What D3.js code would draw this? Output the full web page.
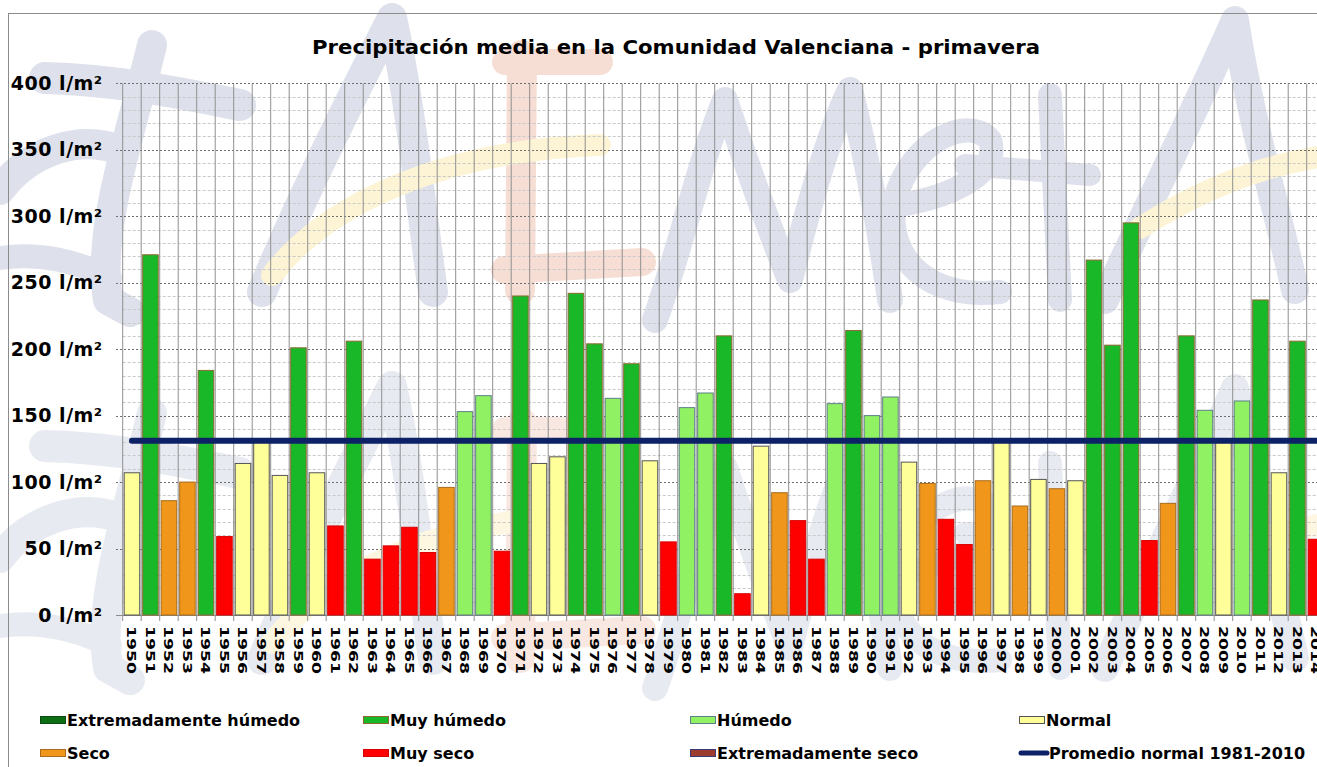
<!DOCTYPE html>
<html>
<head>
<meta charset="utf-8">
<script src="https://cdn.jsdelivr.net/npm/d3@7/dist/d3.min.js"></script>
<style>
  body { margin: 0; background: #fff; }
  svg { display: block; font-family: "DejaVu Sans", Verdana, sans-serif; }
</style>
</head>
<body>
<div id="chart"></div>
<script>
var width = 1317
var height = 767

// Data
var years = ["1950","1951","1952","1953","1954","1955","1956","1957","1958","1959",
             "1960","1961","1962","1963","1964","1965","1966","1967","1968","1969",
             "1970","1971","1972","1973","1974","1975","1976","1977","1978","1979",
             "1980","1981","1982","1983","1984","1985","1986","1987","1988","1989",
             "1990","1991","1992","1993","1994","1995","1996","1997","1998","1999",
             "2000","2001","2002","2003","2004","2005","2006","2007","2008","2009",
             "2010","2011","2012","2013","2014"];
var precip = [107,271,86,100,184,59,114,130,105,201,
              107,67,206,42,52,66,47,96,153,165,
              48,240,114,119,242,204,163,189,116,55,
              156,167,210,16,127,92,71,42,159,214,
              150,164,115,99,72,53,101,130,82,102,
              95,101,267,203,295,56,84,210,154,130,
              161,237,107,206,57];
var caracter = ["N","MH","S","S","MH","MS","N","N","N","MH",
                "N","MS","MH","MS","MS","MS","MS","S","H","H",
                "MS","MH","N","N","MH","MH","H","MH","N","MS",
                "H","H","MH","MS","N","S","MS","MS","H","MH",
                "H","H","N","S","MS","MS","S","N","S","N",
                "S","N","MH","MH","MH","MS","S","MH","H","N",
                "H","MH","N","MH","MS"];
var promedio = [131];   // promedio normal 1981-2010
var yTicks = [0, 50, 100, 150, 200, 250, 300, 350, 400];
var legendCodes = ["EH","MH","H","N","S","MS","ES","AVG"];
var legendLabels = ["Extremadamente húmedo","Muy húmedo","Húmedo","Normal",
                    "Seco","Muy seco","Extremadamente seco","Promedio normal 1981-2010"];

var fills = { EH: "#0b6e14", MH: "#19b829", H: "#90f262", N: "#ffff99", S: "#f0961a", MS: "#ff0000", ES: "#9c3b2e" };
var strokes = { EH: "#0b4a10", MH: "#8a6a30", H: "#5d7f86", N: "#555555", S: "#a86c1c", MS: "#d80000", ES: "#3a3a7a" };
var navy = "#0c2166";

var svg = d3.select("#chart").append("svg")
    .attr("width", width)
    .attr("height", height);

var defs = svg.append("defs");
var blur = defs.append("filter").attr("id", "shadow")
    .attr("x", "-5%").attr("y", "-300%").attr("width", "110%").attr("height", "700%");
blur.append("feGaussianBlur").attr("stdDeviation", 3.5);

// Watermark (logo in background), rough brush strokes
var wm = [
    { c: "#d2d6e4", w: 30, d: "M152,45 C132,130 96,230 108,300 L130,312" },
    { c: "#d2d6e4", w: 32, d: "M45,78 C120,80 190,95 240,105" },
    { c: "#d2d6e4", w: 30, d: "M0,190 C30,150 80,135 120,150" },
    { c: "#d2d6e4", w: 24, d: "M0,258 C40,252 80,262 110,278" },
    { c: "#d2d6e4", w: 30, d: "M262,292 C300,200 350,100 392,18 C410,100 420,200 433,292" },
    { c: "#d2d6e4", w: 26, d: "M655,320 C680,250 700,160 725,100 C745,160 770,230 790,280 C810,200 830,130 850,90 C865,150 880,230 890,300" },
    { c: "#d2d6e4", w: 24, d: "M900,205 C960,195 1000,170 990,140 C970,115 910,140 895,200 C885,260 930,300 1000,292" },
    { c: "#d2d6e4", w: 24, d: "M1050,95 L1060,300" },
    { c: "#d2d6e4", w: 22, d: "M965,165 L1090,175" },
    { c: "#d2d6e4", w: 28, d: "M1105,300 C1150,200 1200,100 1235,20 C1250,120 1280,220 1295,290" },
    { c: "#f4d2c5", w: 30, d: "M522,55 L520,290" },
    { c: "#f4d2c5", w: 26, d: "M505,62 L600,62" },
    { c: "#f4d2c5", w: 28, d: "M505,270 L642,262" },
    { c: "#fcf0c6", w: 22, d: "M272,275 C330,200 450,150 600,145" },
    { c: "#fcf0c6", w: 22, d: "M1140,228 C1200,190 1260,165 1330,155" }
];
var wmGroup = defs.append("g").attr("id", "wm");
wmGroup.selectAll("path").data(wm).enter().append("path")
    .attr("d", function(d) { return d.d; })
    .attr("fill", "none")
    .attr("stroke", function(d) { return d.c; })
    .attr("stroke-width", function(d) { return d.w; })
    .attr("stroke-linecap", "round")
    .attr("stroke-linejoin", "round");

svg.append("use").attr("href", "#wm").attr("opacity", 0.72);
svg.append("use").attr("href", "#wm").attr("opacity", 0.5).attr("transform", "translate(0,368)");

// outer frame
svg.append("rect")
    .attr("x", 8.5).attr("y", 13.5)
    .attr("width", width + 20).attr("height", height + 20)
    .attr("fill", "none").attr("stroke", "#8c8c8c");

// Scales
var x0 = 122.7, step = 18.5;
var x = d3.scaleBand()
    .domain(years)
    .range([x0, x0 + years.length * step])
    .paddingInner(0.16)
    .paddingOuter(0.08);
var y = d3.scaleLinear()
    .domain([0, 400])
    .range([615, 83.3]);

// title
svg.append("text")
    .attr("x", 676).attr("y", 54)
    .attr("text-anchor", "middle")
    .attr("font-size", 20)
    .attr("font-weight", "bold")
    .attr("textLength", 728)
    .attr("lengthAdjust", "spacingAndGlyphs")
    .text("Precipitación media en la Comunidad Valenciana - primavera");

// grid
var grid = svg.append("g");
grid.selectAll(".minor")
    .data(d3.range(10, 400, 10).filter(function(v) { return v % 50 != 0; }))
    .enter().append("line")
    .attr("x1", x0).attr("x2", width)
    .attr("y1", function(d) { return Math.round(y(d)) + 0.5; })
    .attr("y2", function(d) { return Math.round(y(d)) + 0.5; })
    .attr("stroke", "#c9c9c9").attr("stroke-dasharray", "3,2");
grid.selectAll(".major")
    .data(yTicks.slice(1))
    .enter().append("line")
    .attr("x1", 116).attr("x2", width)
    .attr("y1", function(d) { return Math.round(y(d)) + 0.5; })
    .attr("y2", function(d) { return Math.round(y(d)) + 0.5; })
    .attr("stroke", "#6e6e6e").attr("stroke-dasharray", "2,2");
grid.selectAll(".vert")
    .data(years.concat(["end"]))
    .enter().append("line")
    .attr("x1", function(d, i) { return x0 + i * x.step(); })
    .attr("x2", function(d, i) { return x0 + i * x.step(); })
    .attr("y1", y(400)).attr("y2", 621)
    .attr("stroke", "#8f8f8f").attr("stroke-width", 1);
grid.append("line")
    .attr("x1", 116).attr("x2", width)
    .attr("y1", 615.5).attr("y2", 615.5)
    .attr("stroke", "#8a8a8a");

// y axis
var yAxis = svg.append("g")
    .attr("transform", "translate(" + x0 + ",0)")
    .call(d3.axisLeft(y).tickValues(yTicks).tickSize(0).tickPadding(20)
        .tickFormat(function(d) { return d + " l/m²"; }));
yAxis.select(".domain").remove();
yAxis.selectAll("text")
    .attr("font-family", "DejaVu Sans, Verdana, sans-serif")
    .attr("font-size", 19).attr("font-weight", "bold").attr("fill", "#000")
    .attr("letter-spacing", 0.5);

// x axis (rotated years)
var xAxis = svg.append("g")
    .attr("transform", "translate(0,615)")
    .call(d3.axisBottom(x).tickSize(0));
xAxis.select(".domain").remove();
xAxis.selectAll("text")
    .attr("font-family", "DejaVu Sans, Verdana, sans-serif")
    .attr("font-size", 13).attr("font-weight", "bold").attr("fill", "#000")
    .attr("text-anchor", "start")
    .attr("transform", "rotate(90)")
    .attr("x", 11).attr("y", 4.6).attr("dy", 0)
    .attr("textLength", 48).attr("lengthAdjust", "spacingAndGlyphs");

// bars
var barData = years.map(function(yr, i) { return { year: yr, v: precip[i], c: caracter[i] }; });
svg.selectAll(".bar")
    .data(barData)
    .enter().append("rect")
    .attr("class", "bar")
    .attr("x", function(d) { return x(d.year); })
    .attr("width", x.bandwidth())
    .attr("y", function(d) { return y(d.v); })
    .attr("height", function(d) { return y(0) - y(d.v); })
    .attr("fill", function(d) { return fills[d.c]; })
    .attr("stroke", function(d) { return strokes[d.c]; })
    .attr("stroke-width", 1);

// average line with shadow
var xStart = x(years[0]) + x.bandwidth() / 2;
svg.selectAll(".avgShadow")
    .data(promedio).enter().append("line")
    .attr("x1", xStart).attr("x2", width + 20)
    .attr("y1", function(d) { return y(d) + 1; }).attr("y2", function(d) { return y(d) + 1; })
    .attr("stroke", "#555").attr("stroke-opacity", 0.55).attr("stroke-width", 12)
    .attr("filter", "url(#shadow)");
svg.selectAll(".avg")
    .data(promedio).enter().append("line")
    .attr("x1", xStart).attr("x2", width + 20)
    .attr("y1", function(d) { return y(d); }).attr("y2", function(d) { return y(d); })
    .attr("stroke", navy).attr("stroke-width", 6).attr("stroke-linecap", "round");

// legend
var colX = [40, 363, 690, 1019];
var rowY = [720, 753];
var legend = svg.selectAll(".leg")
    .data(legendCodes)
    .enter().append("g")
    .attr("transform", function(d, i) { return "translate(" + colX[i % 4] + "," + rowY[Math.floor(i / 4)] + ")"; });
legend.filter(function(d) { return d != "AVG"; })
    .append("rect")
    .attr("x", 0.5).attr("y", -3.5).attr("width", 25).attr("height", 7)
    .attr("fill", function(d) { return fills[d]; })
    .attr("stroke", function(d) { return strokes[d]; });
legend.filter(function(d) { return d == "AVG"; })
    .append("line")
    .attr("x1", 2).attr("x2", 28).attr("y1", 0).attr("y2", 0)
    .attr("stroke", navy).attr("stroke-width", 5).attr("stroke-linecap", "round");
legend.append("text")
    .attr("x", function(d) { return d == "AVG" ? 30 : 27; })
    .attr("y", 6)
    .attr("font-size", 16).attr("font-weight", "bold")
    .text(function(d, i) { return legendLabels[i]; });
</script>
</body>
</html>
